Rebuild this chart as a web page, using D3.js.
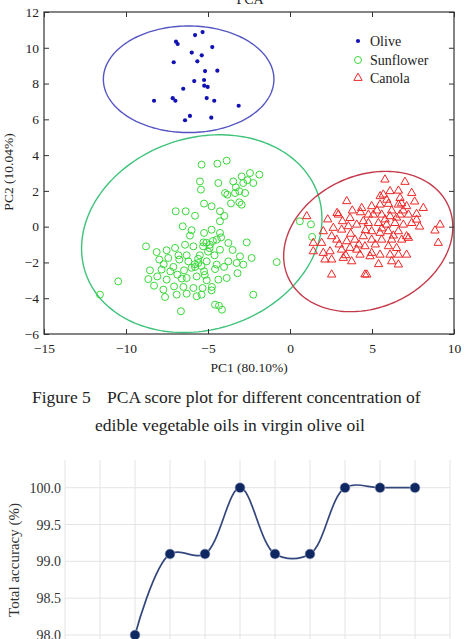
<!DOCTYPE html>
<html>
<head>
<meta charset="utf-8">
<script src="https://cdnjs.cloudflare.com/ajax/libs/d3/7.8.5/d3.min.js"></script>
<style>
    body { margin: 0; background: #fff; }
    svg { display: block; }
    text { font-family: "Liberation Serif", "Times New Roman", serif; }
</style>
</head>
<body>
<svg id="chart" width="465" height="639"></svg>
<script>
// PCA scores (PC1, PC2)
var olive = [
    [-5.79, 10.71], [-5.33, 10.88], [-6.95, 10.34], [-6.85, 10.21], [-4.74, 10.04],
    [-5.99, 9.73], [-5.38, 9.58], [-7.09, 9.19], [-5.65, 9.24], [-5.18, 8.70],
    [-4.43, 8.72], [-5.84, 8.14], [-5.24, 8.20], [-6.51, 7.71], [-5.23, 7.88],
    [-5.02, 7.81], [-8.29, 7.04], [-7.15, 7.18], [-6.99, 7.04], [-5.08, 7.19],
    [-4.62, 7.04], [-3.13, 6.76], [-6.10, 6.19], [-6.40, 5.95], [-4.80, 6.09]
];

var sunflower = [
    [-5.49, 2.53], [-5.43, 2.07], [-4.37, 2.44], [-3.82, 1.79], [-5.24, 1.29], [-4.78, 1.14],
    [-6.97, 0.86], [-6.36, 0.86], [-5.79, 0.61], [-4.27, 0.86], [-4.27, 0.30], [-6.54, 0.02],
    [-6.00, -0.20], [-5.24, -0.35], [-4.78, -0.17], [-4.27, -0.35], [-3.76, -0.91], [-4.47, -0.73],
    [-8.78, -1.10], [-8.13, -1.42], [-7.52, -1.32], [-7.01, -1.19], [-6.40, -1.01], [-5.89, -1.10],
    [-5.28, -0.88], [-4.88, -1.01], [-4.27, -1.29],
    [-7.97, -1.84], [-7.42, -1.75], [-6.75, -1.84], [-6.20, -1.94], [-5.59, -2.03], [-5.08, -1.94],
    [-4.47, -2.12], [-3.76, -1.94],
    [-8.54, -2.44], [-7.83, -2.40], [-7.11, -2.25], [-6.46, -2.44], [-5.79, -2.25], [-5.24, -2.50],
    [-4.57, -2.37], [-4.02, -2.25],
    [-8.64, -2.93], [-8.09, -2.78], [-7.52, -2.96], [-6.87, -2.68], [-6.30, -2.87], [-5.69, -2.78],
    [-5.08, -3.00], [-4.37, -2.96], [-3.86, -2.87],
    [-10.47, -3.06], [-8.29, -3.30], [-7.72, -3.52], [-7.07, -3.34], [-6.50, -3.37], [-5.89, -3.43],
    [-5.33, -3.43], [-4.76, -3.37],
    [-7.62, -3.93], [-6.91, -3.80], [-6.30, -3.75], [-5.69, -3.89], [-5.39, -3.80], [-4.78, -3.56],
    [-11.59, -3.80], [-6.65, -4.73], [-4.57, -4.36], [-4.33, -4.42], [-4.15, -4.64],
    [-4.43, 3.52], [-3.86, 3.69], [-5.39, 3.47], [-3.46, 2.53], [-2.95, 2.81], [-2.44, 3.00],
    [-1.87, 2.91], [-2.85, 2.44], [-2.24, 2.44], [-3.09, 1.98], [-2.74, 1.88], [-3.96, 1.88],
    [-3.35, 1.88], [-3.09, 1.36], [-2.95, 1.23], [-2.64, -0.88], [-3.05, -1.66], [-2.34, -1.75],
    [-3.25, -2.03], [-2.85, -2.12], [-0.81, -1.98], [-2.24, -3.80],
    [0.60, 0.30], [1.28, 0.13], [1.35, -0.57],
    // dense core
    [-5.10, -0.90], [-4.90, -1.20], [-5.30, -1.10], [-4.70, -0.80], [-5.00, -1.40], [-5.60, -1.80],
    [-5.40, -2.20], [-5.80, -2.10], [-5.50, -1.60], [-6.00, -2.30], [-6.30, -1.60], [-4.60, -1.60],
    [-5.20, -2.70], [-6.60, -2.90], [-7.30, -2.50], [-4.20, -0.60], [-4.00, 0.60], [-3.60, 1.30],
    [-3.30, 2.20], [-2.60, 2.60], [-6.10, -0.50], [-6.80, -1.60], [-7.70, -2.10], [-3.50, -1.30],
    [-3.20, -2.60]
];

var canola = [
    [3.46, 1.42], [1.02, 0.58], [2.95, 0.67], [3.66, 0.48], [4.37, 1.04], [4.78, 0.67],
    [2.64, -0.07], [3.15, -0.17], [3.56, 0.02], [4.07, 0.11], [4.47, 0.30], [2.03, -0.26],
    [1.42, -0.91], [1.93, -0.91], [2.54, -0.54], [2.85, -0.73], [3.46, -0.82], [3.96, -0.73],
    [4.47, -0.54], [2.03, -1.47], [1.42, -1.38], [2.44, -1.38], [3.15, -1.29], [3.66, -1.19],
    [4.07, -1.29], [4.57, -1.10], [2.13, -1.84], [2.54, -1.84], [3.25, -1.75], [3.76, -1.94],
    [4.27, -1.57], [2.54, -2.68], [4.57, -2.68],
    [5.79, 2.63], [7.01, 2.50], [6.10, 1.98], [6.61, 2.01], [7.42, 1.88], [5.69, 1.79],
    [6.71, 1.60], [4.98, 1.14], [5.49, 1.23], [6.00, 1.27], [6.61, 1.23], [7.11, 1.14],
    [8.13, 1.04], [7.72, 0.71], [7.22, 0.67], [5.08, 0.67], [5.59, 0.67], [6.10, 0.58],
    [6.71, 0.67], [7.72, 0.39], [4.78, 0.20], [5.39, 0.20], [5.89, 0.11], [6.40, 0.20],
    [6.91, 0.11], [7.42, 0.20], [9.15, 0.11], [8.84, -0.22], [9.04, -0.91], [4.98, -0.26],
    [5.49, -0.35], [5.99, -0.26], [6.61, -0.26], [7.11, -0.54], [4.98, -0.73], [5.59, -0.73],
    [6.20, -0.73], [6.81, -0.73], [7.22, -0.63], [4.98, -1.47], [5.49, -1.57], [6.10, -1.57],
    [6.61, -1.57], [7.11, -1.57], [4.88, -1.66], [6.20, -1.94], [6.61, -2.12], [4.68, -2.68],
    [2.87, 0.76],
    // dense core
    [5.30, 0.90], [5.80, 0.40], [6.20, 0.90], [6.50, 0.50], [5.60, -0.10], [6.30, -0.50],
    [5.90, 1.50], [6.90, 0.90], [5.20, -1.00], [6.00, -1.10], [4.30, 0.80], [3.80, 0.90],
    [3.20, 0.30], [2.30, 0.40], [3.00, -1.00], [3.70, -0.40], [4.60, -0.20], [5.50, 1.70],
    [6.80, 1.30], [7.60, 1.40], [7.90, 0.00], [6.50, -1.20], [5.40, -2.10], [4.20, -1.00],
    [3.40, -1.60]
];

// confidence ellipses: centre, semi-axes, rotation (deg), all in data units
var ellipses = [
    { nombre: "Olive", cx: -6.18, cy: 8.24, rx: 5.20, ry: 2.98, rot: 0, color: "#5656c2" },
    { nombre: "Sunflower", cx: -5.38, cy: -0.39, rx: 7.43, ry: 5.39, rot: 13.8, color: "#3fc27a" },
    { nombre: "Canola", cx: 4.77, cy: -0.83, rx: 5.29, ry: 3.74, rot: 18.4, color: "#c43a4a" }
];

var pcaXTicks = [-15, -10, -5, 0, 5, 10];
var pcaYTicks = [-6, -4, -2, 0, 2, 4, 6, 8, 10, 12];

// lower chart (only its upper part is visible)
var pasos = [2, 3, 4, 5, 6, 7, 8, 9, 10];
var exactitud = [98.0, 99.1, 99.1, 100.0, 99.1, 99.1, 100.0, 100.0, 100.0];
var exactitudTicks = [98.0, 98.5, 99.0, 99.5, 100.0];

var svg = d3.select("#chart");
svg.append("rect").attr("width", 465).attr("height", 639).attr("fill", "#fff");

DibujarPCA();
DibujarCaption();
DibujarExactitud();

function DibujarPCA() {
    var x = d3.scaleLinear().domain([-15, 10]).range([44, 454]);
    var y = d3.scaleLinear().domain([-6, 12]).range([334, 12]);
    var g = svg.append("g");

    // ellipses
    var angulos = d3.range(0, 361, 2);
    var linea = d3.line().x(function (d) { return x(d[0]); }).y(function (d) { return y(d[1]); });
    ellipses.forEach(function (e) {
        var r = e.rot * Math.PI / 180;
        var pts = angulos.map(function (a) {
            var t = a * Math.PI / 180;
            var u = e.rx * Math.cos(t), v = e.ry * Math.sin(t);
            return [e.cx + u * Math.cos(r) - v * Math.sin(r), e.cy + u * Math.sin(r) + v * Math.cos(r)];
        });
        g.append("path").attr("d", linea(pts)).attr("fill", "none")
            .attr("stroke", e.color).attr("stroke-width", 1.4);
    });

    g.selectAll(".olive").data(olive).enter().append("circle")
        .attr("cx", function (d) { return x(d[0]); })
        .attr("cy", function (d) { return y(d[1]); })
        .attr("r", 2.1)
        .attr("fill", "#1212b4");

    g.selectAll(".sun").data(sunflower).enter().append("circle")
        .attr("cx", function (d) { return x(d[0]); })
        .attr("cy", function (d) { return y(d[1]); })
        .attr("r", 3.5)
        .attr("fill", "none")
        .attr("stroke", "#3ad83a")
        .attr("stroke-width", 1);

    var tri = d3.symbol().type(d3.symbolTriangle).size(30);
    g.selectAll(".can").data(canola).enter().append("path")
        .attr("d", tri)
        .attr("transform", function (d) { return "translate(" + x(d[0]) + "," + y(d[1]) + ")"; })
        .attr("fill", "none")
        .attr("stroke", "#ee2626")
        .attr("stroke-width", 1);

    // axes, MATLAB style: box with inward ticks
    var ejes = svg.append("g");
    ejes.append("g").attr("transform", "translate(0,334)")
        .call(d3.axisBottom(x).tickValues(pcaXTicks).tickSizeInner(-5).tickSizeOuter(0).tickPadding(9));
    ejes.append("g").attr("transform", "translate(44,0)")
        .call(d3.axisLeft(y).tickValues(pcaYTicks).tickSizeInner(-5).tickSizeOuter(0).tickPadding(5));
    ejes.append("g").attr("transform", "translate(0,12)")
        .call(d3.axisTop(x).tickValues(pcaXTicks).tickSizeInner(-5).tickSizeOuter(0).tickFormat(""));
    ejes.append("g").attr("transform", "translate(454,0)")
        .call(d3.axisRight(y).tickValues(pcaYTicks).tickSizeInner(-5).tickSizeOuter(0).tickFormat(""));
    ejes.selectAll(".domain").remove();
    ejes.selectAll(".tick line").attr("stroke", "#333");
    ejes.selectAll("g").attr("font-size", 13.5).attr("font-family", null);
    ejes.selectAll("text").attr("fill", "#222");

    svg.append("rect").attr("x", 44).attr("y", 12).attr("width", 410).attr("height", 322)
        .attr("fill", "none").attr("stroke", "#333").attr("stroke-width", 1.2);

    svg.append("text").attr("x", 250).attr("y", 4).attr("text-anchor", "middle")
        .attr("font-size", 14).attr("fill", "#222").text("PCA");
    svg.append("text").attr("x", 249).attr("y", 372).attr("text-anchor", "middle")
        .attr("font-size", 13.5).attr("fill", "#222").text("PC1 (80.10%)");
    svg.append("text").attr("transform", "translate(13,172) rotate(-90)").attr("text-anchor", "middle")
        .attr("font-size", 13.5).attr("fill", "#222").text("PC2 (10.04%)");

    // legend
    var leyenda = svg.append("g").attr("font-size", 14).attr("fill", "#222");
    var filas = [41, 60, 78];
    leyenda.append("circle").attr("cx", 358).attr("cy", filas[0]).attr("r", 2.1).attr("fill", "#1212b4");
    leyenda.append("circle").attr("cx", 358).attr("cy", filas[1]).attr("r", 3.5)
        .attr("fill", "none").attr("stroke", "#3ad83a");
    leyenda.append("path").attr("d", tri).attr("transform", "translate(358," + filas[2] + ")")
        .attr("fill", "none").attr("stroke", "#ee2626");
    ["Olive", "Sunflower", "Canola"].forEach(function (n, i) {
        leyenda.append("text").attr("x", 370).attr("y", filas[i] + 4.5).text(n);
    });
}

function DibujarCaption() {
    var c = svg.append("g").attr("font-size", 17.5).attr("fill", "#222");
    c.append("text").attr("x", 32).attr("y", 403).text("Figure 5");
    c.append("text").attr("x", 107).attr("y", 403)
        .text("PCA score plot for different concentration of");
    c.append("text").attr("x", 230).attr("y", 431).attr("text-anchor", "middle")
        .text("edible vegetable oils in virgin olive oil");
}

function DibujarExactitud() {
    var x = d3.scaleLinear().domain([0, 11]).range([65, 450]);
    var y = d3.scaleLinear().domain([98, 100]).range([635, 487.7]);
    var g = svg.append("g");

    // grid
    g.selectAll(".vgrid").data(d3.range(0, 12)).enter().append("line")
        .attr("x1", function (d) { return x(d); }).attr("x2", function (d) { return x(d); })
        .attr("y1", 460).attr("y2", 639)
        .attr("stroke", "#e4e4e4").attr("stroke-width", 1);
    g.selectAll(".hgrid").data(exactitudTicks).enter().append("line")
        .attr("x1", 65).attr("x2", 450)
        .attr("y1", function (d) { return y(d); }).attr("y2", function (d) { return y(d); })
        .attr("stroke", "#e4e4e4").attr("stroke-width", 1);

    g.selectAll(".ytick").data(exactitudTicks).enter().append("text")
        .attr("x", 61).attr("y", function (d) { return y(d) + 5; })
        .attr("text-anchor", "end").attr("font-size", 14).attr("fill", "#333")
        .text(function (d) { return d.toFixed(1); });

    svg.append("text").attr("transform", "translate(19,560) rotate(-90)").attr("text-anchor", "middle")
        .attr("font-size", 15).attr("fill", "#333").text("Total accuracy (%)");

    var datos = pasos.map(function (p, i) { return [p, exactitud[i]]; });
    var linea = d3.line().curve(d3.curveCatmullRom.alpha(0.5))
        .x(function (d) { return x(d[0]); }).y(function (d) { return y(d[1]); });
    g.append("path").attr("d", linea(datos)).attr("fill", "none")
        .attr("stroke", "#34477c").attr("stroke-width", 1.7);

    g.selectAll(".pt").data(datos).enter().append("circle")
        .attr("cx", function (d) { return x(d[0]); })
        .attr("cy", function (d) { return y(d[1]); })
        .attr("r", 5)
        .attr("fill", "#0f2862")
        .attr("stroke", "#b8bccb").attr("stroke-width", 0.6);
}
</script>
</body>
</html>
